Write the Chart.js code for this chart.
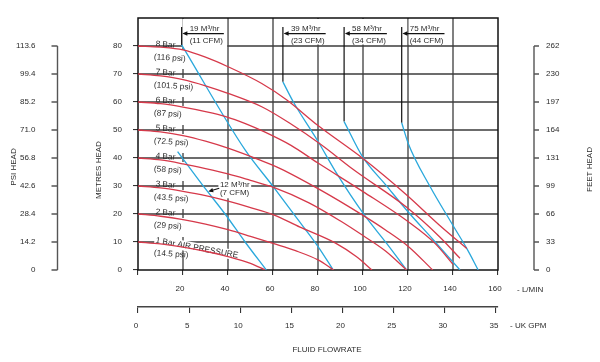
<!DOCTYPE html>
<html>
<head>
<meta charset="utf-8">
<title>Pump performance curve</title>
<script src="https://cdn.jsdelivr.net/npm/chart.js@4.4.1/dist/chart.umd.min.js"></script>
<style>
  html, body { margin: 0; padding: 0; background: #fff; }
  canvas { display: block; }
</style>
</head>
<body>
<canvas id="pumpChart" width="600" height="362"></canvas>
<script>
// flow axes
const lpmTicks = [0, 20, 40, 60, 80, 100, 120, 140, 160];
const gpmTicks = [0, 5, 10, 15, 20, 25, 30, 35];

// head axes - same positions, three units
const metreTicks = [0, 10, 20, 30, 40, 50, 60, 70, 80];
const psiTicks = ['0', '14.2', '28.4', '42.6', '56.8', '71.0', '85.2', '99.4', '113.6'];
const feetTicks = ['0', '33', '66', '99', '131', '164', '197', '230', '262'];

// air pressure curves  [L/min, metres head]
const bar1 = [[0, 10], [10, 9.3], [20, 8.2], [30, 6.7], [40, 4.8], [50, 2.4], [56.5, 0]];
const bar2 = [[0, 20], [10, 19.2], [20, 18], [30, 16.4], [40, 14.4], [50, 12], [60, 9.5], [70, 6.9], [80, 3.6], [87, 0]];
const bar3 = [[0, 30], [10, 29.3], [20, 28.1], [30, 26.6], [40, 24.6], [50, 22.3], [60, 19.8], [72, 15.3], [88, 9.5], [97, 4.8], [104, 0]];
const bar4 = [[0, 40], [10, 39.3], [20, 37.9], [30, 36.2], [40, 34.3], [50, 32], [60, 29.6], [76, 24], [90, 17.5], [100, 12.3], [110, 6.8], [119.4, 0]];
const bar5 = [[0, 50], [10, 49.3], [20, 48], [30, 46], [40, 43.5], [54, 39.3], [63, 36.3], [81, 28.6], [100, 19.5], [110, 14.3], [120, 8.5], [131, 0]];
const bar6 = [[0, 60], [10, 59.4], [20, 58.2], [30, 56.6], [39, 54.8], [48, 52.2], [56, 49.4], [68, 44.5], [80, 38.2], [100, 28], [120, 17.3], [132, 9.5], [140, 2]];
const bar7 = [[0, 70], [10, 69.3], [20, 68], [30, 65.8], [40, 63.1], [55, 58.3], [67.5, 52.4], [81, 45], [96, 35.7], [119.4, 22.4], [134, 11.9], [143.1, 4.2]];
const bar8 = [[0, 80], [10, 79.6], [20, 78.6], [30, 76], [40, 72.6], [55, 66.6], [66, 60.8], [80, 51.6], [100, 39.8], [119.4, 26.8], [134, 16], [146.1, 7.7]];
const barNames = ['1 Bar AIR PRESSURE', '2 Bar', '3 Bar', '4 Bar', '5 Bar', '6 Bar', '7 Bar', '8 Bar'];
const barPsi = ['(14.5 psi)', '(29 psi)', '(43.5 psi)', '(58 psi)', '(72.5 psi)', '(87 psi)', '(101.5 psi)', '(116 psi)'];

// air consumption lines  [L/min, metres head]
const air12 = [[17.6, 42.3], [28.8, 30.2], [38.7, 20], [47.6, 10], [57, 0]];
const air19 = [[19.4, 80.4], [47.6, 42.9], [60.1, 29.8], [69, 20.2], [80.1, 8.3], [86.8, 0]];
const air39 = [[64.4, 67.2], [69, 60.1], [80.1, 45.8], [88.3, 34.5], [100.1, 20.2], [110.5, 9.5], [119.4, 0]];
const air58 = [[91.6, 53], [100, 40.2], [110, 30.5], [120, 20.8], [131, 11], [143.1, 0]];
const air75 = [[117.2, 52.6], [120.1, 45.2], [129.8, 29.8], [139.4, 16.7], [146.1, 7.7], [151.2, 0]];
const airM3 = ['12 M³/hr', '19 M³/hr', '39 M³/hr', '58 M³/hr', '75 M³/hr'];
const airCfm = ['(7 CFM)', '(11 CFM)', '(23 CFM)', '(34 CFM)', '(44 CFM)'];

const pressureCurves = [bar1, bar2, bar3, bar4, bar5, bar6, bar7, bar8];
const airCurves = [air12, air19, air39, air58, air75];

const FONT = '"Liberation Sans", Arial, Helvetica, sans-serif';
const INK = '#2b2b2b';
const RED = '#d6394a';
const BLUE = '#2aa8dc';
const GRID = '#3d3d3d';
const LPM_PER_GPM = 4.54609;

function label(ctx, s, x, y, align, deg, size) {
  ctx.save();
  ctx.translate(x, y);
  ctx.rotate((deg || 0) * Math.PI / 180);
  ctx.font = (size || 8) + 'px ' + FONT;
  ctx.textAlign = align || 'left';
  ctx.textBaseline = 'middle';
  ctx.fillText(s, 0, 0);
  ctx.restore();
}

function arrowHead(ctx, tipX, tipY, fromX, fromY, len, half) {
  const a = Math.atan2(tipY - fromY, tipX - fromX);
  const bx = tipX - len * Math.cos(a), by = tipY - len * Math.sin(a);
  ctx.beginPath();
  ctx.moveTo(tipX, tipY);
  ctx.lineTo(bx + half * Math.sin(a), by - half * Math.cos(a));
  ctx.lineTo(bx - half * Math.sin(a), by + half * Math.cos(a));
  ctx.closePath();
  ctx.fill();
}

const overlay = {
  id: 'overlay',
  beforeDatasetsDraw(chart) {
    const { ctx, chartArea: a } = chart;
    const X = v => chart.scales.x.getPixelForValue(v);
    const Y = v => chart.scales.y.getPixelForValue(v);
    ctx.save();

    // grid
    ctx.strokeStyle = GRID;
    ctx.lineWidth = 1.3;
    ctx.beginPath();
    metreTicks.slice(1).forEach(m => { ctx.moveTo(a.left, Y(m)); ctx.lineTo(a.right, Y(m)); });
    lpmTicks.slice(1, -1).forEach(f => { ctx.moveTo(X(f), a.top); ctx.lineTo(X(f), a.bottom); });
    ctx.stroke();

    // white space behind the pressure labels
    ctx.fillStyle = '#fff';
    for (let n = 2; n <= 8; n++) {
      const t = Y(n * 10) + 4, b = Y((n - 1) * 10) - 5;
      ctx.fillRect(X(5.3), t, X(24.2) - X(5.3), b - t);
    }
    ctx.font = '8px ' + FONT;
    const tops = airCurves.slice(1);
    tops.forEach((c, k) => {
      const i = k + 1;
      const bx = X(c[0][0]);
      const tx = bx + 8;
      const w = Math.max(ctx.measureText(airM3[i]).width, ctx.measureText(airCfm[i]).width);
      if (i === 1) ctx.fillRect(bx + 0.8, a.top + 1, X(39.6) - bx - 0.8, Y(80) + 1.5 - a.top - 1);
      else ctx.fillRect(tx - 1, a.top + 1, w + 3, Y(80) - 1.5 - a.top - 1);
    });
    const w12 = Math.max(ctx.measureText(airM3[0]).width, ctx.measureText(airCfm[0]).width);
    ctx.fillRect(X(36.4) - 1.5, Y(32.3), w12 + 3, Y(25.6) - Y(32.3));

    ctx.save();
    ctx.font = '8.3px ' + FONT;
    const w1 = ctx.measureText(barNames[0]).width;
    ctx.translate(X(7.8), Y(10.6));
    ctx.rotate(10.5 * Math.PI / 180);
    ctx.fillRect(-1, -5, w1 + 2, 10);
    ctx.restore();

    // frame
    ctx.strokeStyle = '#111';
    ctx.lineWidth = 1.5;
    ctx.strokeRect(a.left, a.top, a.right - a.left, a.bottom - a.top);

    // air consumption call-outs
    ctx.lineWidth = 1.2;
    tops.forEach((c, k) => {
      const i = k + 1;
      const bx = X(c[0][0]);
      const tx = bx + 8;
      const w = Math.max(ctx.measureText(airM3[i]).width, ctx.measureText(airCfm[i]).width);
      const uy = Y(84.45);
      ctx.strokeStyle = '#111';
      ctx.fillStyle = '#111';
      ctx.beginPath();
      ctx.moveTo(bx, Y(86.8));
      ctx.lineTo(bx, Y(c[0][1]));
      ctx.moveTo(bx + 4, uy);
      ctx.lineTo(tx + w + 1, uy);
      ctx.stroke();
      arrowHead(ctx, bx + 0.7, uy, bx + 10, uy, 5, 2.2);
      ctx.fillStyle = INK;
      label(ctx, airM3[i], tx, Y(86.25));
      label(ctx, airCfm[i], tx, Y(82));
    });
    ctx.strokeStyle = '#111';
    ctx.fillStyle = '#111';
    ctx.beginPath();
    ctx.moveTo(X(36.1), Y(29.2));
    ctx.lineTo(X(32), Y(28.2));
    ctx.stroke();
    arrowHead(ctx, X(31.2), Y(28.0), X(36.1), Y(29.2), 5, 2.2);
    ctx.fillStyle = INK;
    label(ctx, airM3[0], X(36.4), Y(30.4));
    label(ctx, airCfm[0], X(36.4), Y(27.5));

    // air pressure labels
    for (let n = 1; n <= 8; n++) {
      if (n === 1) label(ctx, barNames[0], X(7.8), Y(10.6), 'left', 10.5, 8.3);
      else label(ctx, barNames[n - 1], X(7.8), Y(n * 10 + 0.7), 'left', 4, 8.3);
      label(ctx, barPsi[n - 1], X(7.1), Y(n * 10 - 3.9), 'left', 4, 8.3);
    }
    ctx.restore();
  },
  afterDraw(chart) {
    const { ctx } = chart;
    const Y = v => chart.scales.y.getPixelForValue(v);
    const psiX = 57.5, feetX = 534;
    ctx.save();
    ctx.strokeStyle = '#555';
    ctx.lineWidth = 1.4;
    ctx.beginPath();
    ctx.moveTo(psiX, Y(80)); ctx.lineTo(psiX, Y(0));
    ctx.moveTo(feetX, Y(80)); ctx.lineTo(feetX, Y(0));
    metreTicks.forEach(m => {
      ctx.moveTo(psiX - 6, Y(m)); ctx.lineTo(psiX, Y(m));
      ctx.moveTo(feetX, Y(m)); ctx.lineTo(feetX + 5, Y(m));
    });
    ctx.stroke();
    ctx.fillStyle = INK;
    metreTicks.forEach((m, i) => {
      label(ctx, psiTicks[i], psiX - 22, Y(m), 'right');
      label(ctx, feetTicks[i], feetX + 12, Y(m), 'left');
    });
    label(ctx, 'PSI HEAD', 13.5, 167, 'center', -90);
    label(ctx, 'METRES HEAD', 98.5, 170, 'center', -90);
    label(ctx, 'FEET HEAD', 590, 169.5, 'center', -90);
    label(ctx, '- L/MIN', 517, 289.5, 'left');
    label(ctx, '- UK GPM', 510, 325.5, 'left');
    label(ctx, 'FLUID FLOWRATE', 327, 350, 'center');
    ctx.restore();
  }
};

const toXY = c => c.map(([x, y]) => ({ x, y }));
const lineSet = (c, color) => ({
  data: toXY(c),
  showLine: true,
  borderColor: color,
  borderWidth: 1.3,
  pointRadius: 0,
  fill: false,
  cubicInterpolationMode: 'monotone'
});

const tickFont = { family: FONT, size: 8 };

new Chart(document.getElementById('pumpChart'), {
  type: 'scatter',
  data: {
    datasets: [
      ...pressureCurves.map(c => lineSet(c, RED)),
      ...airCurves.map(c => lineSet(c, BLUE))
    ]
  },
  options: {
    responsive: false,
    animation: false,
    devicePixelRatio: 1,
    layout: { padding: { left: 0, right: 102, top: 18, bottom: 0 } },
    plugins: { legend: { display: false }, tooltip: { enabled: false } },
    scales: {
      x: {
        type: 'linear', position: 'bottom', weight: 0, min: 0, max: 160,
        afterBuildTicks: s => { s.ticks = lpmTicks.map(v => ({ value: v })); },
        afterFit: s => { s.height = 37; },
        grid: { drawOnChartArea: false, drawTicks: true, tickLength: 5, color: '#333', lineWidth: 1.1 },
        border: { display: false },
        ticks: {
          font: tickFont, color: INK, padding: 9, labelOffset: -3,
          maxRotation: 0, autoSkip: false,
          callback: v => (v === 0 ? '' : String(v))
        }
      },
      xGpm: {
        type: 'linear', position: 'bottom', weight: 1, min: 0, max: 160 / LPM_PER_GPM,
        afterBuildTicks: s => { s.ticks = gpmTicks.map(v => ({ value: v })); },
        afterFit: s => { s.height = 55; },
        grid: { drawOnChartArea: false, drawTicks: true, tickLength: 6, color: '#333', lineWidth: 1.1 },
        border: { display: true, color: '#444', width: 1.4 },
        ticks: {
          font: tickFont, color: INK, padding: 7.7, labelOffset: -2,
          maxRotation: 0, autoSkip: false, includeBounds: false,
          callback: v => String(v)
        }
      },
      y: {
        type: 'linear', position: 'left', min: 0, max: 90,
        afterBuildTicks: s => { s.ticks = metreTicks.map(v => ({ value: v })); },
        afterFit: s => { s.width = 138; },
        grid: { drawOnChartArea: false, drawTicks: true, tickLength: 5, color: '#333', lineWidth: 1.1 },
        border: { display: false },
        ticks: { font: tickFont, color: INK, padding: 11, callback: v => String(v) }
      }
    }
  },
  plugins: [overlay]
});
</script>
</body>
</html>
